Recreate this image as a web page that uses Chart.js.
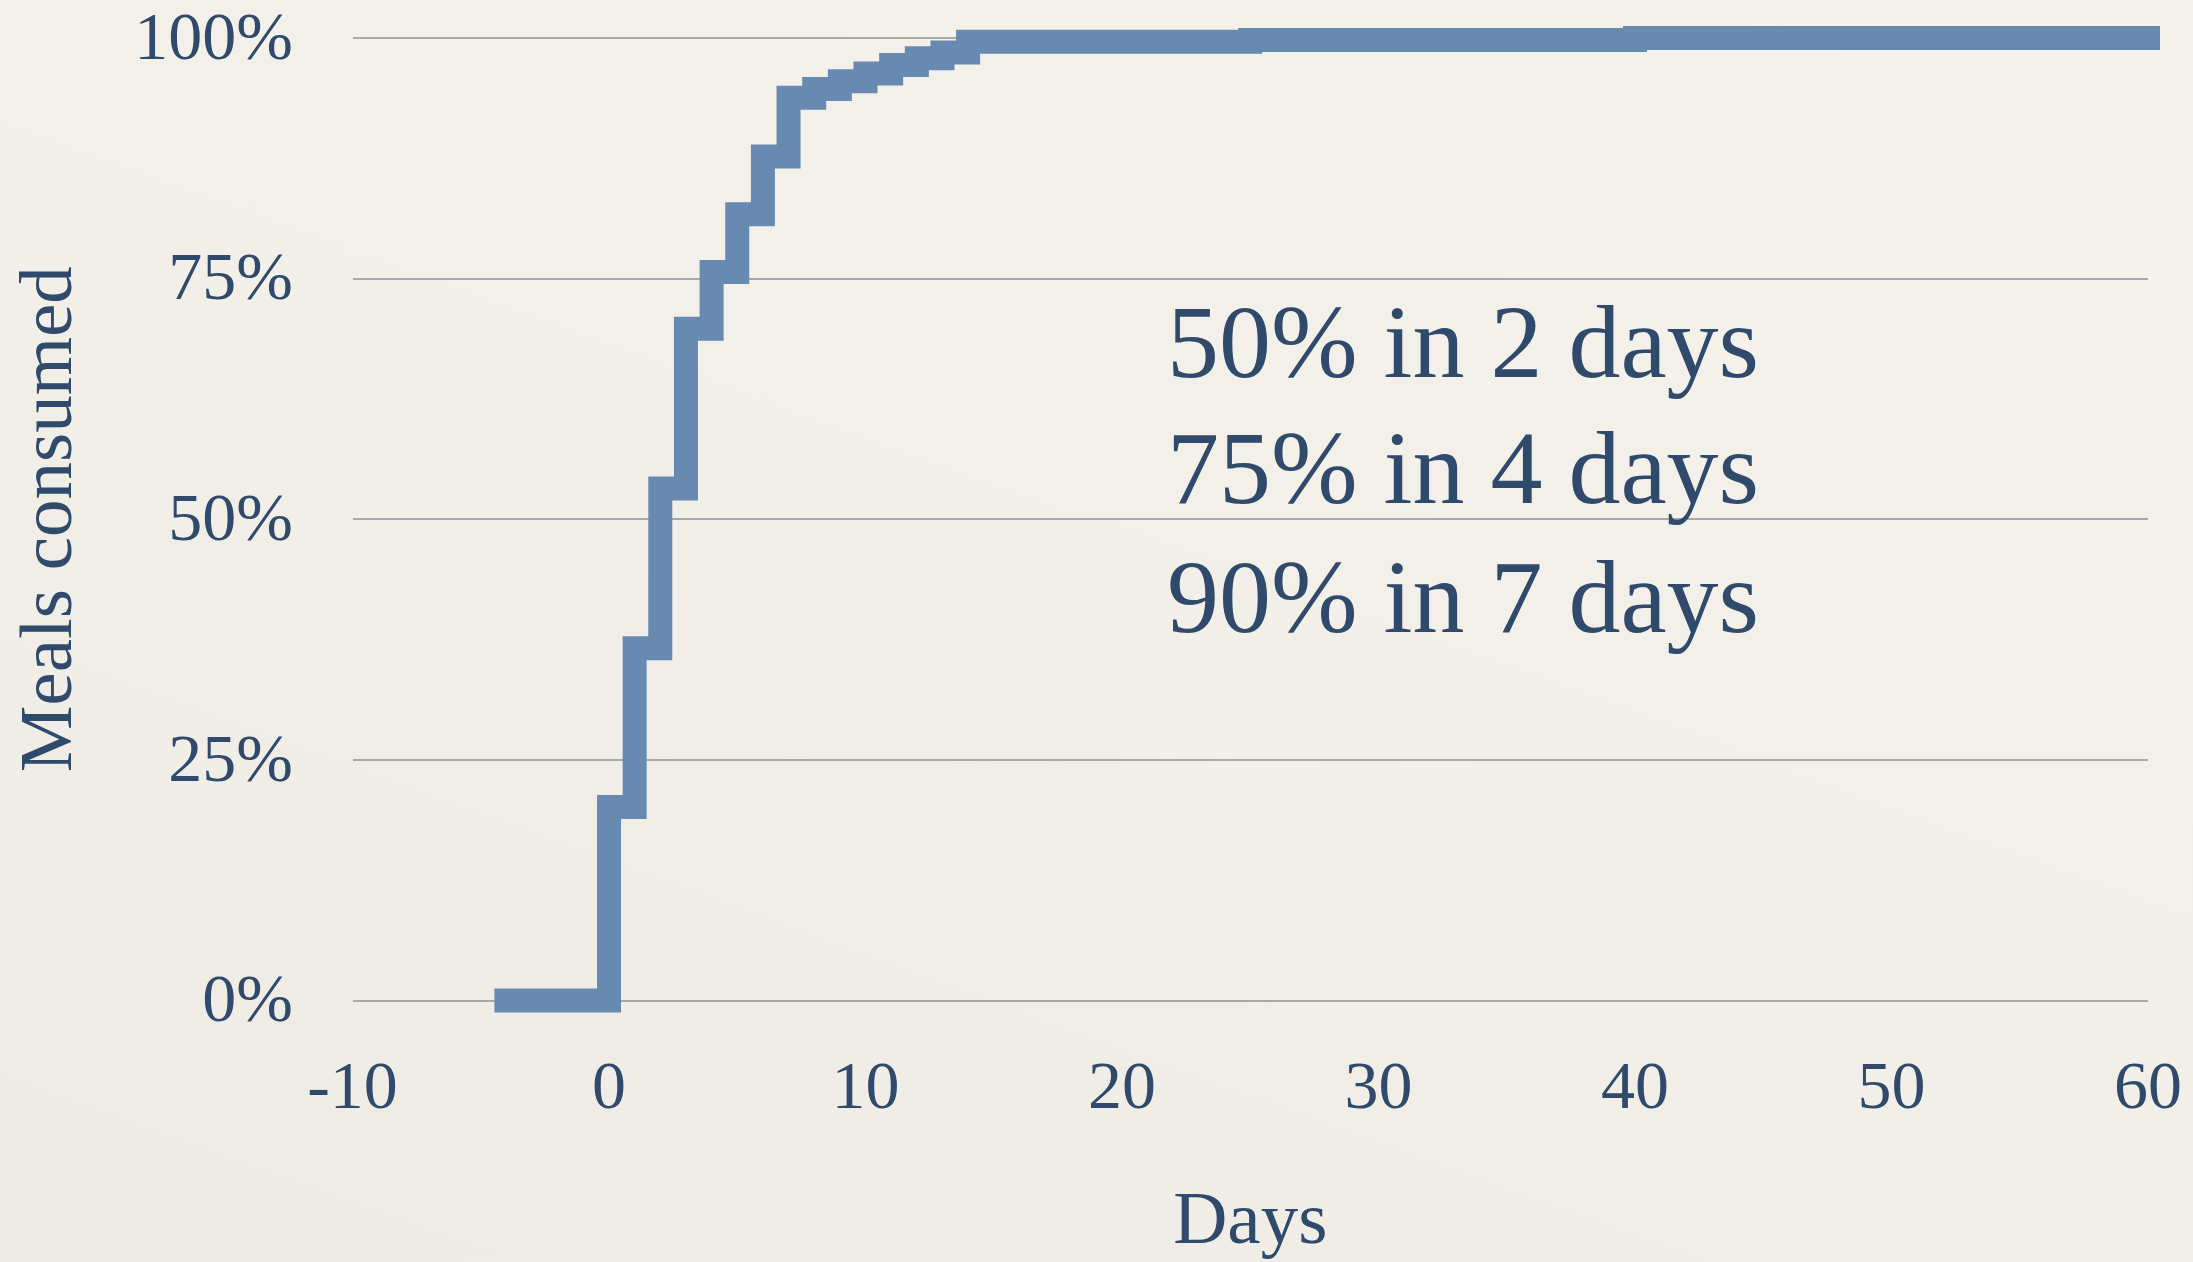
<!DOCTYPE html>
<html>
<head>
<meta charset="utf-8">
<script src="https://cdn.jsdelivr.net/npm/chart.js@4.4.1/dist/chart.umd.min.js"></script>
<style>
  html, body { margin: 0; padding: 0; }
  body {
    width: 2193px; height: 1262px; overflow: hidden;
    background: linear-gradient(20deg, #eeebe5 0%, #f2efe9 45%, #f5f2ec 100%);
  }
  #wrap { position: relative; width: 2193px; height: 1262px; }
</style>
</head>
<body>
<div id="wrap"><canvas id="c" width="2193" height="1262"></canvas></div>
<script>
// Days since delivery (x) and cumulative share of meals consumed (%, y)
const days     = [-4, 0, 1, 2, 3, 4, 5, 6, 7, 8, 9, 10, 11, 12, 13, 14, 25, 40, 60];
const consumed = [0, 20.1, 36.6, 53.2, 69.8, 75.7, 81.7, 87.7, 93.8, 94.7, 95.5, 96.3, 97.2, 97.9, 98.5, 99.6, 99.8, 100, 100];

const xTicks = [-10, 0, 10, 20, 30, 40, 50, 60];
const yTicks = [0, 25, 50, 75, 100];

const xTitle = 'Days';
const yTitle = 'Meals consumed';

const notes     = ['50% in 2 days', '75% in 4 days', '90% in 7 days'];
const noteDay   = 21.75;
const noteLevel = [64.83, 51.70, 38.33];

const TEXT = '#2f4a6b';
const LINE = '#6889b0';
const FONT = '"Liberation Serif", "DejaVu Serif", serif';

const notePlugin = {
  id: 'notes',
  afterDatasetsDraw(chart) {
    const { ctx, scales: { x, y } } = chart;
    ctx.save();
    ctx.fillStyle = TEXT;
    ctx.font = '104px ' + FONT;
    ctx.textAlign = 'left';
    ctx.textBaseline = 'alphabetic';
    notes.forEach((t, i) => {
      ctx.fillText(t, x.getPixelForValue(noteDay), y.getPixelForValue(noteLevel[i]));
    });
    ctx.restore();
  }
};

new Chart(document.getElementById('c'), {
  type: 'line',
  data: {
    datasets: [{
      data: days.map((d, i) => ({ x: d, y: consumed[i] })),
      borderColor: LINE,
      backgroundColor: LINE,
      borderWidth: 24,
      borderCapStyle: 'square',
      borderJoinStyle: 'miter',
      stepped: 'before',
      pointRadius: 0,
      fill: false,
      clip: false
    }]
  },
  options: {
    responsive: false,
    animation: false,
    devicePixelRatio: 1,
    layout: { padding: { top: 38, right: 45, left: 0, bottom: 0 } },
    plugins: { legend: { display: false }, tooltip: { enabled: false } },
    scales: {
      x: {
        type: 'linear',
        min: -10, max: 60,
        afterBuildTicks(s) { s.ticks = xTicks.map(v => ({ value: v })); },
        afterFit(s) { s.height = 261.5; s.paddingLeft = 0; s.paddingRight = 0; },
        grid: { display: false },
        border: { display: false },
        ticks: {
          color: TEXT,
          font: { family: FONT, size: 68 },
          padding: 41,
          maxRotation: 0,
          callback: v => String(v)
        },
        title: {
          display: true, text: xTitle, color: TEXT,
          font: { family: FONT, size: 75 },
          padding: { top: 0, bottom: -6 }
        }
      },
      y: {
        min: 0, max: 100,
        afterBuildTicks(s) { s.ticks = yTicks.map(v => ({ value: v })); },
        afterFit(s) { s.width = 352.5; s.paddingTop = 0; s.paddingBottom = 0; },
        grid: { color: '#a9a9a9', lineWidth: 2, drawTicks: false },
        border: { display: false },
        ticks: {
          color: TEXT,
          font: { family: FONT, size: 68 },
          padding: 59.5,
          labelOffset: 3,
          callback: v => v + '%'
        },
        title: {
          display: true, text: yTitle, color: TEXT,
          font: { family: FONT, size: 75 },
          padding: { top: 6, bottom: 0 }
        }
      }
    }
  },
  plugins: [notePlugin]
});
</script>
</body>
</html>
